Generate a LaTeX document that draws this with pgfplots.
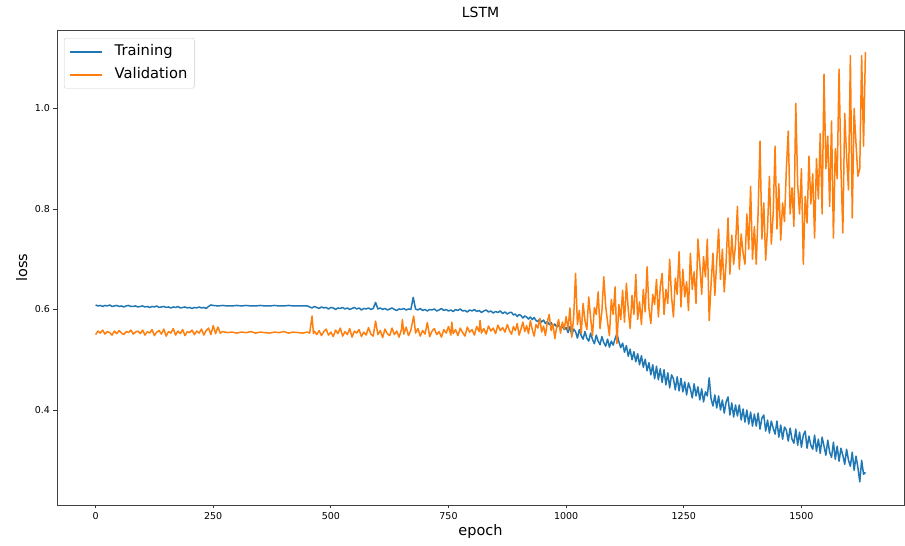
\documentclass[border=0pt]{standalone}
\usepackage{fontspec}
\setmainfont{DejaVu Sans}
\usepackage{pgfplots}
\pgfplotsset{compat=1.18}
\definecolor{tabblue}{HTML}{1F77B4}
\definecolor{taborange}{HTML}{FF7F0E}

\begin{document}
\begin{tikzpicture}[x=1pt,y=1pt]
\useasboundingbox (0,0) rectangle (905,546);
\begin{axis}[
  at={(57pt,41pt)}, anchor=south west,
  scale only axis, width=847pt, height=475pt,
  xmin=-82, xmax=1718, ymin=0.211, ymax=1.156,
  xtick={0,250,500,750,1000,1250,1500},
  ytick={0.4,0.6,0.8,1.0},
  scaled ticks=false,
  xticklabel style={/pgf/number format/1000 sep={}},
  yticklabel style={/pgf/number format/.cd, fixed, fixed zerofill, precision=1},
  /pgf/number format/assume math mode=true,
  tick label style={font=\fontsize{9.5}{11}\selectfont},
  tick align=outside, major tick length=3.5pt,
  xtick pos=left, ytick pos=left,
  tick style={black!80, line width=0.8pt},
  axis line style={black!75, line width=0.8pt},
  title={LSTM},
  title style={font=\fontsize{14}{16}\selectfont, at={(axis description cs:0.5,1.0141)}, anchor=base},
  xlabel={epoch},
  xlabel style={font=\fontsize{14.5}{16}\selectfont, at={(axis description cs:0.5,-0.0632)}, anchor=base},
  ylabel={loss},
  ylabel style={font=\fontsize{14.5}{16}\selectfont, at={(axis description cs:-0.0354,0.5)}, anchor=base},
  legend style={at={(axis description cs:0.0083,0.983)}, anchor=north west,
    font=\fontsize{14.7}{16}\selectfont, draw=black!20, fill=white, fill opacity=0.8, text opacity=1,
    rounded corners=2pt, inner xsep=5pt, inner ysep=4.5pt, row sep=5pt,
    nodes={inner sep=2pt, text height=11pt, text depth=3pt},
    /tikz/every odd column/.append style={column sep=10pt}},
  legend cell align=left,
  legend image code/.code={\draw[#1, line width=1.5pt] (0pt,0pt) -- (32pt,0pt);},
]
\addplot[tabblue, line width=1.5pt, line join=round] coordinates {
(0,0.609)(5,0.607)(10,0.608)(15,0.606)(20,0.608)(25,0.607)(30,0.609)(35,0.606)(40,0.607)(45,0.608)
(50,0.606)(55,0.607)(60,0.605)(65,0.607)(70,0.608)(75,0.606)(80,0.606)(85,0.607)(90,0.605)(95,0.606)
(100,0.607)(105,0.605)(110,0.606)(115,0.604)(120,0.606)(125,0.605)(130,0.607)(135,0.604)(140,0.605)(145,0.606)
(150,0.604)(155,0.605)(160,0.603)(165,0.605)(170,0.604)(175,0.606)(180,0.603)(185,0.604)(190,0.605)(195,0.603)
(200,0.604)(205,0.602)(210,0.604)(215,0.603)(220,0.605)(225,0.603)(230,0.604)(235,0.602)(240,0.606)(245,0.609)
(250,0.608)(260,0.607)(270,0.608)(280,0.607)(290,0.607)(300,0.608)(310,0.607)(320,0.608)(330,0.607)(340,0.607)
(350,0.608)(360,0.607)(370,0.607)(380,0.608)(390,0.607)(400,0.607)(410,0.608)(420,0.607)(430,0.607)(440,0.607)
(450,0.607)(455,0.605)(460,0.603)(465,0.606)(470,0.604)(475,0.602)(480,0.605)(485,0.603)(490,0.604)(495,0.601)
(500,0.604)(505,0.603)(510,0.600)(515,0.603)(520,0.602)(525,0.604)(530,0.601)(535,0.603)(540,0.600)(545,0.602)
(550,0.604)(555,0.601)(560,0.603)(565,0.599)(570,0.602)(575,0.601)(580,0.603)(585,0.600)(590,0.602)(595,0.614)
(600,0.601)(605,0.603)(610,0.600)(615,0.602)(620,0.599)(625,0.601)(630,0.603)(635,0.600)(640,0.598)(645,0.601)
(650,0.600)(655,0.602)(660,0.599)(665,0.601)(670,0.600)(675,0.624)(680,0.601)(685,0.599)(690,0.602)(695,0.598)
(700,0.600)(705,0.597)(710,0.600)(715,0.599)(720,0.601)(725,0.597)(730,0.599)(735,0.602)(740,0.598)(745,0.600)
(750,0.597)(755,0.599)(760,0.596)(765,0.600)(770,0.598)(775,0.601)(780,0.597)(785,0.598)(790,0.595)(795,0.599)
(800,0.597)(805,0.600)(810,0.596)(815,0.598)(820,0.594)(825,0.597)(830,0.599)(835,0.595)(840,0.597)(845,0.593)
(850,0.596)(855,0.594)(860,0.597)(865,0.592)(870,0.595)(875,0.591)(880,0.594)
(884,0.594)(888,0.589)(892,0.591)(896,0.586)(900,0.590)(904,0.588)(908,0.583)(912,0.587)(916,0.585)(920,0.581)
(924,0.585)(928,0.580)(932,0.584)(936,0.578)(940,0.576)(944,0.581)(948,0.575)(952,0.579)(956,0.572)(960,0.576)
(964,0.570)(968,0.574)(972,0.567)(976,0.571)(980,0.565)(984,0.569)(988,0.563)(992,0.566)(996,0.560)(1000,0.564)
(1004,0.554)(1008,0.566)(1012,0.549)(1016,0.561)(1020,0.556)(1024,0.543)(1028,0.560)(1032,0.548)(1036,0.541)(1040,0.556)
(1044,0.543)(1048,0.537)(1052,0.553)(1056,0.540)(1060,0.532)(1064,0.549)(1068,0.537)(1072,0.530)(1076,0.546)(1080,0.534)
(1084,0.527)(1088,0.541)(1092,0.525)(1096,0.537)(1100,0.529)(1104,0.542)(1108,0.552)(1112,0.536)(1116,0.524)(1120,0.533)
(1124,0.515)(1128,0.528)(1132,0.507)(1136,0.521)(1140,0.500)(1144,0.516)(1148,0.496)(1152,0.512)(1156,0.490)(1160,0.508)
(1164,0.485)(1168,0.501)(1172,0.478)(1176,0.494)(1180,0.470)(1184,0.490)(1188,0.462)(1192,0.487)(1196,0.460)(1200,0.482)
(1204,0.455)(1208,0.480)(1212,0.450)(1216,0.474)(1220,0.444)(1224,0.470)(1228,0.462)(1232,0.440)(1236,0.466)(1240,0.438)
(1244,0.463)(1248,0.436)(1252,0.456)(1256,0.430)(1260,0.454)(1264,0.442)(1268,0.424)(1272,0.452)(1276,0.428)(1280,0.446)
(1284,0.420)(1288,0.442)(1292,0.416)(1296,0.436)(1300,0.428)(1304,0.464)(1308,0.422)(1312,0.408)(1316,0.430)(1320,0.404)
(1324,0.428)(1328,0.400)(1332,0.420)(1336,0.394)(1340,0.416)(1344,0.426)(1348,0.390)(1352,0.414)(1356,0.386)(1360,0.410)
(1364,0.388)(1368,0.410)(1372,0.380)(1376,0.402)(1380,0.376)(1384,0.400)(1388,0.372)(1392,0.396)(1396,0.368)(1400,0.392)
(1404,0.368)(1408,0.394)(1412,0.362)(1416,0.384)(1420,0.390)(1424,0.358)(1428,0.380)(1432,0.354)(1436,0.378)(1440,0.364)
(1444,0.352)(1448,0.378)(1452,0.346)(1456,0.370)(1460,0.342)(1464,0.366)(1468,0.360)(1472,0.338)(1476,0.364)(1480,0.342)
(1484,0.334)(1488,0.362)(1492,0.330)(1496,0.356)(1500,0.326)(1504,0.350)(1508,0.358)(1512,0.324)(1516,0.348)(1520,0.330)
(1524,0.322)(1528,0.350)(1532,0.318)(1536,0.342)(1540,0.314)(1544,0.346)(1548,0.328)(1552,0.310)(1556,0.340)(1560,0.316)
(1564,0.306)(1568,0.336)(1572,0.302)(1576,0.328)(1580,0.298)(1584,0.324)(1588,0.310)(1592,0.292)(1596,0.322)(1600,0.300)
(1604,0.288)(1608,0.316)(1612,0.280)(1616,0.308)(1620,0.286)(1624,0.257)(1628,0.300)(1632,0.272)(1636,0.276)
};
\addlegendentry{Training}
\addplot[taborange, line width=1.5pt, line join=round] coordinates {
(0,0.550)(5,0.557)(10,0.553)(15,0.559)(20,0.551)(25,0.556)(30,0.554)(35,0.549)(40,0.557)(45,0.552)
(50,0.558)(55,0.553)(60,0.550)(65,0.556)(70,0.554)(75,0.559)(80,0.551)(85,0.555)(90,0.557)(95,0.552)
(100,0.559)(105,0.549)(110,0.556)(115,0.553)(120,0.560)(125,0.548)(130,0.555)(135,0.558)(140,0.551)(145,0.561)
(150,0.547)(155,0.556)(160,0.553)(165,0.562)(170,0.549)(175,0.557)(180,0.552)(185,0.560)(190,0.548)(195,0.556)
(200,0.554)(205,0.559)(210,0.550)(215,0.557)(220,0.553)(225,0.561)(230,0.549)(235,0.558)(240,0.563)(245,0.550)
(250,0.568)(255,0.552)(260,0.565)(265,0.553)(270,0.556)(280,0.554)(290,0.555)(300,0.553)(310,0.555)(320,0.554)
(330,0.556)(340,0.553)(350,0.555)(360,0.554)(370,0.553)(380,0.555)(390,0.554)(400,0.556)(410,0.553)(420,0.555)
(430,0.554)(440,0.553)(450,0.555)(455,0.553)(460,0.587)(463,0.552)(465,0.557)(470,0.550)(475,0.558)(480,0.548)
(485,0.556)(490,0.561)(495,0.549)(500,0.555)(505,0.546)(510,0.559)(515,0.552)(520,0.563)(525,0.547)(530,0.556)
(535,0.550)(540,0.562)(545,0.545)(550,0.557)(555,0.553)(560,0.560)(565,0.546)(570,0.555)(575,0.549)(580,0.564)
(585,0.551)(590,0.547)(595,0.577)(600,0.550)(605,0.558)(610,0.544)(615,0.561)(620,0.552)(625,0.548)(630,0.563)
(635,0.550)(640,0.557)(645,0.545)(650,0.560)(652,0.580)(655,0.551)(660,0.565)(665,0.548)(670,0.559)(676,0.587)
(680,0.553)(685,0.562)(690,0.547)(695,0.558)(700,0.551)(705,0.574)(710,0.546)(715,0.557)(720,0.562)(725,0.550)
(730,0.556)(735,0.545)(740,0.560)(745,0.553)(750,0.566)(755,0.549)(757,0.575)(760,0.552)(765,0.560)(770,0.548)
(775,0.563)(780,0.554)(785,0.547)(790,0.565)(795,0.555)(800,0.560)(805,0.549)(810,0.566)(815,0.556)(817,0.578)
(820,0.553)(825,0.562)(830,0.551)(835,0.567)(840,0.557)(845,0.563)(850,0.552)(855,0.569)(860,0.558)(865,0.564)
(870,0.555)(875,0.570)(880,0.557)
(884,0.551)(888,0.566)(892,0.558)(896,0.572)(900,0.549)(904,0.561)(908,0.575)(912,0.556)(916,0.568)(920,0.552)
(924,0.578)(928,0.560)(932,0.547)(936,0.570)(940,0.563)(944,0.582)(948,0.555)(952,0.567)(956,0.548)(960,0.575)
(964,0.590)(968,0.558)(972,0.571)(976,0.542)(980,0.566)(984,0.580)(988,0.553)(992,0.575)(996,0.561)(1000,0.586)
(1004,0.560)(1008,0.603)(1012,0.545)(1016,0.585)(1020,0.672)(1024,0.570)(1028,0.598)(1032,0.552)(1036,0.612)(1040,0.578)
(1044,0.560)(1048,0.625)(1052,0.583)(1056,0.548)(1060,0.604)(1064,0.590)(1068,0.635)(1072,0.562)(1076,0.597)(1080,0.665)
(1084,0.607)(1088,0.575)(1092,0.548)(1096,0.620)(1100,0.590)(1104,0.645)(1108,0.532)(1112,0.610)(1116,0.580)(1120,0.638)
(1124,0.575)(1128,0.652)(1132,0.600)(1136,0.562)(1140,0.628)(1144,0.590)(1148,0.670)(1152,0.580)(1156,0.615)(1160,0.570)
(1164,0.640)(1168,0.595)(1172,0.685)(1176,0.602)(1180,0.572)(1184,0.630)(1188,0.610)(1192,0.660)(1196,0.585)(1200,0.645)
(1204,0.672)(1208,0.590)(1212,0.640)(1216,0.612)(1220,0.700)(1224,0.625)(1228,0.585)(1232,0.662)(1236,0.630)(1240,0.715)
(1244,0.605)(1248,0.680)(1252,0.625)(1256,0.655)(1260,0.598)(1264,0.712)(1268,0.640)(1272,0.675)(1276,0.612)(1280,0.740)
(1284,0.690)(1288,0.630)(1292,0.705)(1296,0.665)(1300,0.740)(1304,0.578)(1308,0.650)(1312,0.712)(1316,0.628)(1320,0.695)
(1324,0.760)(1328,0.660)(1332,0.720)(1336,0.635)(1340,0.695)(1344,0.782)(1348,0.670)(1352,0.748)(1356,0.690)(1360,0.730)
(1364,0.805)(1368,0.680)(1372,0.750)(1376,0.712)(1380,0.690)(1384,0.790)(1388,0.720)(1392,0.845)(1396,0.700)(1400,0.765)
(1404,0.690)(1408,0.795)(1412,0.935)(1416,0.740)(1420,0.812)(1424,0.698)(1428,0.762)(1432,0.865)(1436,0.730)(1440,0.790)
(1444,0.925)(1448,0.760)(1452,0.850)(1456,0.738)(1460,0.812)(1464,0.775)(1468,0.880)(1472,0.955)(1476,0.790)(1480,0.842)
(1484,0.765)(1488,1.010)(1492,0.850)(1496,0.790)(1500,0.880)(1504,0.690)(1508,0.825)(1512,0.772)(1516,0.905)(1520,0.810)
(1524,0.870)(1528,0.742)(1532,0.900)(1536,0.820)(1540,0.950)(1544,0.790)(1548,1.068)(1552,0.880)(1556,0.945)(1560,0.805)
(1564,0.975)(1568,0.742)(1572,0.920)(1576,0.860)(1580,1.078)(1584,0.880)(1588,0.752)(1592,0.990)(1596,0.905)(1600,0.838)
(1604,1.105)(1608,0.782)(1612,1.000)(1616,0.930)(1620,0.865)(1624,0.880)(1628,1.105)(1632,0.925)(1636,1.112)
};
\addlegendentry{Validation}
\end{axis}
\end{tikzpicture}
\end{document}
